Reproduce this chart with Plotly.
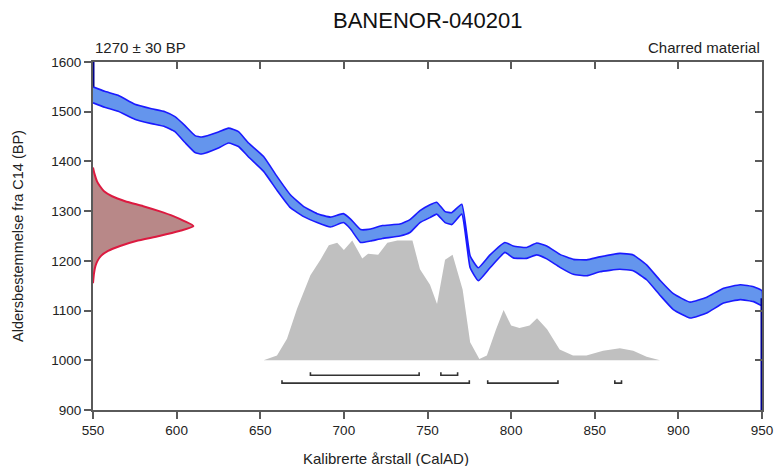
import plotly.graph_objects as go

# ---------------- text ----------------
title_text = "BANENOR-040201"
sample_label = "1270 ± 30 BP"
material_label = "Charred material"
x_title = "Kalibrerte årstall (CalAD)"
y_title = "Aldersbestemmelse fra C14 (BP)"

x_ticks = [550, 600, 650, 700, 750, 800, 850, 900, 950]
y_ticks = [900, 1000, 1100, 1200, 1300, 1400, 1500, 1600]

# ---------------- calibration curve (cal AD, BP, 1-sigma) ----------------
curve_years = [550, 557, 565, 575, 585, 593, 599, 605, 611, 615, 625, 631, 637, 643,
               652, 660, 668, 676, 684, 692, 699.7, 704, 710, 716, 723, 733.5, 739.5,
               745.5, 751.5, 755.5, 760.5, 764.5, 770.5, 775.5, 780.4, 787.4, 796.3,
               801.3, 809.3, 815.3, 821.3, 829.2, 837.2, 845.2, 853, 865, 873, 881,
               889, 897, 907, 917, 927, 937, 945, 950]
curve_bp = [1534, 1525, 1517, 1500, 1491, 1485, 1475, 1455, 1435, 1432, 1443, 1452, 1445, 1423,
            1395, 1356, 1320, 1299, 1286, 1278, 1286, 1274, 1250, 1252, 1258, 1262, 1270,
            1289, 1300, 1306, 1288, 1285, 1304, 1198, 1173, 1199, 1227,
            1218, 1216, 1224, 1217, 1200, 1188, 1186, 1193, 1199, 1196, 1177,
            1146, 1118, 1101, 1111, 1130, 1137, 1133, 1125]
curve_sigma = [16, 16, 16, 15, 15, 15, 15, 17, 17, 17, 16, 15, 15, 14,
               15, 14, 13, 10, 9, 10, 9, 10, 13, 12, 13, 12, 13,
               12, 13, 12, 11, 12, 10, 12, 13, 13, 10,
               12, 11, 12, 13, 13, 15, 16, 15, 16, 16, 15,
               15, 16, 16, 16, 15, 15, 15, 15]

# ---------------- calibrated probability (relative) ----------------
prob_years = [652, 660, 666, 672, 680, 686, 691, 696, 700, 705, 711, 714.5, 720.5, 726,
              732, 741, 745.5, 751.5, 755.7, 760.5, 765, 771, 775.5, 781, 785.5, 791,
              795.5, 800, 805, 811, 815.5, 821.5, 829, 837, 845, 855, 865, 873, 881, 889]
prob_rel = [0.0, 0.04, 0.18, 0.43, 0.71, 0.84, 0.96, 0.98, 0.92, 1.0, 0.85, 0.89, 0.88, 0.98,
            1.0, 1.0, 0.76, 0.63, 0.47, 0.84, 0.88, 0.59, 0.15, 0.01, 0.04, 0.26,
            0.42, 0.29, 0.27, 0.29, 0.35, 0.26, 0.09, 0.04, 0.04, 0.08, 0.10, 0.08, 0.03, 0.0]

# ---------------- measured radiocarbon age (relative) ----------------
meas_bp = [1388, 1375, 1360, 1350, 1340, 1330, 1320, 1310, 1300, 1290, 1280, 1270,
           1260, 1250, 1240, 1230, 1220, 1210, 1200, 1190, 1175, 1155]
meas_rel = [0.0, 0.015, 0.04, 0.07, 0.11, 0.19, 0.32, 0.5, 0.66, 0.8, 0.91, 1.0,
            0.86, 0.66, 0.43, 0.27, 0.15, 0.08, 0.045, 0.025, 0.01, 0.0]

# ---------------- calibrated ranges ----------------
range68_start = [680, 758]
range68_end = [745, 768]
range95_start = [663, 786, 862]
range95_end = [775, 828, 866]

# ---------------- styling / layout constants ----------------
X_MIN, X_MAX = 550, 950
Y_MIN, Y_MAX = 900, 1600
PROB_BASE = 1000
PROB_SCALE = 241
MEAS_SCALE = 60
ROW68, ROW95, BAR_TICK = 970, 954, 6
FONT = "Liberation Sans, Arial, Helvetica, sans-serif"
AXIS_COL = "#5a5a5a"
W, H = 774, 466
ML, MR, MT, MB = 93, 12, 62, 56

fig = go.Figure()

# calibrated probability (grey)
px_ = prob_years + prob_years[::-1]
py_ = [PROB_BASE + p * PROB_SCALE for p in prob_rel] + [PROB_BASE] * len(prob_years)
fig.add_trace(go.Scatter(x=px_, y=py_, fill="toself", fillcolor="#c0c0c0",
                         line=dict(width=0), mode="lines", hoverinfo="skip", showlegend=False))

# calibration curve band
upper = [b + s for b, s in zip(curve_bp, curve_sigma)]
lower = [b - s for b, s in zip(curve_bp, curve_sigma)]
fig.add_trace(go.Scatter(x=curve_years + curve_years[::-1], y=upper + lower[::-1],
                         fill="toself", fillcolor="#6495ed",
                         line=dict(color="#1a1aff", width=1.6, shape="spline", smoothing=0.4),
                         mode="lines", hoverinfo="skip", showlegend=False))

# measured age distribution (red)
mx = [X_MIN + r * MEAS_SCALE for r in meas_rel]
fig.add_trace(go.Scatter(x=mx, y=meas_bp, fill="toself", fillcolor="rgb(184,136,136)",
                         line=dict(color="#dc1a40", width=2, shape="spline", smoothing=0.6),
                         mode="lines", hoverinfo="skip", showlegend=False))

# edge lines of the curve at the plot borders
fig.add_trace(go.Scatter(x=[X_MIN, X_MIN], y=[Y_MAX, upper[0]], mode="lines",
                         line=dict(color="#00008b", width=3), hoverinfo="skip", showlegend=False))
fig.add_trace(go.Scatter(x=[X_MAX, X_MAX], y=[curve_bp[-1], Y_MIN], mode="lines",
                         line=dict(color="#00008b", width=3), hoverinfo="skip", showlegend=False))

# range brackets
def brackets(starts, ends, row):
    xs, ys = [], []
    for a, b in zip(starts, ends):
        xs += [a, a, b, b, None]
        ys += [row + BAR_TICK, row, row, row + BAR_TICK, None]
    return xs, ys

for st, en, row in [(range68_start, range68_end, ROW68), (range95_start, range95_end, ROW95)]:
    bx, by = brackets(st, en, row)
    fig.add_trace(go.Scatter(x=bx, y=by, mode="lines", line=dict(color="#333333", width=1.6),
                             hoverinfo="skip", showlegend=False))

# dummy trace for mirrored axes
fig.add_trace(go.Scatter(x=[None], y=[None], xaxis="x2", yaxis="y2",
                         hoverinfo="skip", showlegend=False))

common = dict(showline=True, linecolor=AXIS_COL, linewidth=2, tickcolor=AXIS_COL,
              tickwidth=1.5, ticklen=7, showgrid=False, zeroline=False, automargin=False)

fig.update_layout(
    width=W, height=H,
    margin=dict(l=ML, r=MR, t=MT, b=MB, autoexpand=False),
    paper_bgcolor="white", plot_bgcolor="white",
    font=dict(family=FONT, color="#222222", size=13.5),
    xaxis=dict(range=[X_MIN, X_MAX], tickvals=x_ticks, ticks="outside",
               tickfont=dict(size=13.5), layer="below traces", **common),
    yaxis=dict(range=[Y_MIN, Y_MAX], tickvals=y_ticks, ticks="outside",
               tickfont=dict(size=13.5), layer="below traces", **common),
    xaxis2=dict(range=[X_MIN, X_MAX], tickvals=x_ticks, ticks="inside", side="top",
                overlaying="x", anchor="y2", showticklabels=False, **common),
    yaxis2=dict(range=[Y_MIN, Y_MAX], tickvals=y_ticks, ticks="inside", side="right",
                overlaying="y", anchor="x2", showticklabels=False, **common),
    annotations=[
        dict(text=title_text, x=0.5, y=1, xref="paper", yref="paper", yanchor="bottom",
             yshift=27, showarrow=False, font=dict(size=22, color="#111111")),
        dict(text=sample_label, x=0, y=1, xref="paper", yref="paper", xanchor="left",
             yanchor="bottom", yshift=4, showarrow=False, font=dict(size=15, color="#222222")),
        dict(text=material_label, x=1, y=1, xref="paper", yref="paper", xanchor="right",
             yanchor="bottom", yshift=4, showarrow=False, font=dict(size=15, color="#222222")),
        dict(text=x_title, x=(386 - ML) / (W - ML - MR), y=0, xref="paper", yref="paper",
             xanchor="center", yanchor="top", yshift=-38, showarrow=False,
             font=dict(size=15, color="#222222")),
        dict(text=y_title, x=(18 - ML) / (W - ML - MR), y=0.5, xref="paper", yref="paper",
             xanchor="center", yanchor="middle", textangle=-90, showarrow=False,
             font=dict(size=14.5, color="#222222")),
    ],
)

fig.write_html("out.html", config={"displayModeBar": False},
               post_script="document.body.style.margin='0px';document.body.style.overflow='hidden';")
